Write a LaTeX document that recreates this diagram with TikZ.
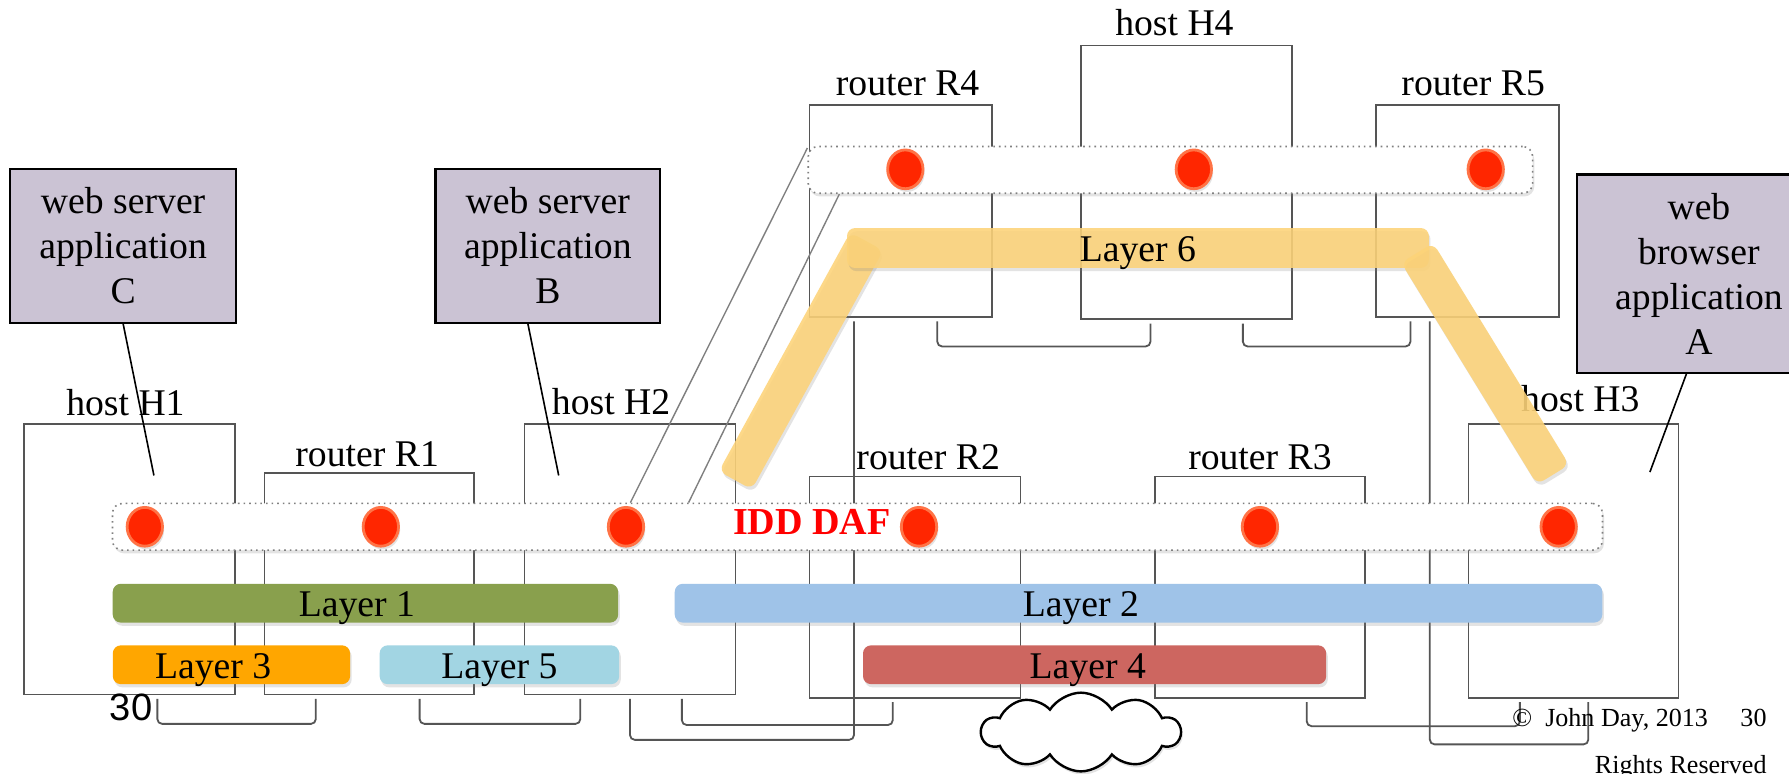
\documentclass[tikz,border=0pt]{standalone}
\usepackage{fontspec}
\setmainfont{Liberation Serif}
\newfontfamily\pagesans{Liberation Sans}
\usetikzlibrary{shapes.geometric,shapes.symbols,shadows}

\definecolor{appfill}{RGB}{203,195,212}
\definecolor{boxline}{RGB}{85,85,85}
\definecolor{dotred}{RGB}{255,38,0}
\definecolor{dotrim}{RGB}{255,115,70}
\definecolor{layerone}{RGB}{137,160,77}
\definecolor{layertwo}{RGB}{159,195,232}
\definecolor{layerthree}{RGB}{255,166,0}
\definecolor{layerfour}{RGB}{205,102,96}
\definecolor{layerfive}{RGB}{162,213,227}
\definecolor{layersix}{RGB}{253,211,120}

\tikzset{
  softshadow/.style={drop shadow={shadow xshift=0.4pt,shadow yshift=-0.8pt,opacity=0.22}},
  netbox/.style={draw=boxline,line width=0.45pt,inner sep=0pt},
  netlabel/.style={font=\fontsize{9.4}{11}\selectfont,inner sep=0pt,anchor=base},
  appbox/.style={draw=black,fill=appfill,line width=0.55pt,align=center,inner sep=0pt,font=\fontsize{9.4}{11.2}\selectfont},
  link/.style={draw=boxline,line width=0.45pt,rounded corners=1.2pt},
  callout/.style={draw=black,line width=0.4pt},
  zoomline/.style={draw=gray,line width=0.35pt},
  dafbar/.style={draw=gray,densely dotted,line width=0.4pt,fill=white,rounded corners=2.5pt,inner sep=0pt,softshadow},
  ipcp/.style={ellipse,fill=dotred,draw=dotrim,line width=0.7pt,minimum width=3.1mm,minimum height=3.4mm,inner sep=0pt,softshadow},
  layerbar/.style={rounded corners=2pt,inner sep=0pt,minimum height=3.4mm,softshadow},
  layertext/.style={font=\fontsize{9.4}{11}\selectfont,inner sep=0pt,anchor=base},
}

\begin{document}
\begin{tikzpicture}[x=0.01cm,y=-0.01cm]
\path[use as bounding box,fill=white] (0,0) rectangle (1569,678);

% hosts and routers
\node[netbox,minimum width=18.5mm,minimum height=23.7mm] (h1) at (113.5,490.5) {};
\node[netbox,minimum width=18.4mm,minimum height=19.4mm] (r1) at (324,512) {};
\node[netbox,minimum width=18.5mm,minimum height=23.7mm] (h2) at (552.5,490.5) {};
\node[netbox,minimum width=18.5mm,minimum height=19.4mm] (r2) at (802.5,515) {};
\node[netbox,minimum width=18.4mm,minimum height=19.4mm] (r3) at (1105,515) {};
\node[netbox,minimum width=18.4mm,minimum height=24mm] (h3) at (1380,492) {};
\node[netbox,minimum width=16mm,minimum height=18.6mm] (r4) at (790,185) {};
\node[netbox,minimum width=18.5mm,minimum height=24mm] (h4) at (1040.5,160) {};
\node[netbox,minimum width=16mm,minimum height=18.6mm] (r5) at (1287,185) {};

\node[netlabel] at ([xshift=-0.35mm,yshift=0.7mm]h1.north) {host H1};
\node[netlabel] at ([xshift=-0.2mm,yshift=0.5mm]r1.north) {router R1};
\node[netlabel] at ([xshift=-1.65mm,yshift=0.8mm]h2.north) {host H2};
\node[netlabel] at ([xshift=1.15mm,yshift=0.5mm]r2.north) {router R2};
\node[netlabel] at ([yshift=0.5mm]r3.north) {router R3};
\node[netlabel] at ([xshift=0.6mm,yshift=1mm]h3.north) {host H3};
\node[netlabel] at ([xshift=0.6mm,yshift=0.7mm]r4.north) {router R4};
\node[netlabel] at ([xshift=-1.05mm,yshift=0.8mm]h4.north) {host H4};
\node[netlabel] at ([xshift=0.5mm,yshift=0.7mm]r5.north) {router R5};

% wires between the boxes
\draw[link] ([xshift=2.45mm,yshift=-0.3mm]h1.south) -- ++(0,22) -| ([xshift=-4.7mm,yshift=-0.3mm]r1.south);
\draw[link] ([xshift=4.4mm,yshift=-0.3mm]r1.south) -- ++(0,22) -| ([xshift=-4.35mm,yshift=-0.3mm]h2.south);
\draw[link] ([yshift=-0.3mm]h2.south) -- ++(0,36) -| ([xshift=-4.1mm,yshift=-0.3mm]r4.south);
\draw[link] ([xshift=4.55mm,yshift=-0.3mm]h2.south) -- ++(0,23) -| ([xshift=-1.95mm,yshift=-0.3mm]r2.south);
\draw[link] ([xshift=4.1mm,yshift=-0.3mm]r3.south) -- ++(0,21) -| ([xshift=-4.7mm,yshift=-0.3mm]h3.south);
\draw[link] ([xshift=-3.3mm,yshift=-0.3mm]r5.south) -- ++(0,371) -| ([xshift=1.3mm,yshift=-0.3mm]h3.south);
\draw[link] ([xshift=3.2mm,yshift=-0.3mm]r4.south) -- ++(0,22) -| ([xshift=-3.15mm,yshift=-0.3mm]h4.south);
\draw[link] ([xshift=4.95mm,yshift=-0.3mm]h4.south) -- ++(0,20) -| ([xshift=-5mm,yshift=-0.3mm]r5.south);

% layer 6 over the top routers
\node[layerbar,fill=layersix,fill opacity=0.88,minimum width=23.9mm,minimum height=3.3mm,rotate=61.2] (sixleft) at (702.5,316.5) {};
\node[layerbar,fill=layersix,fill opacity=0.88,minimum width=51mm,minimum height=3.5mm] (lay6) at (998,217.5) {};
\node[layerbar,fill=layersix,fill opacity=0.88,minimum width=22.8mm,minimum height=3.3mm,rotate=-58.5] (sixright) at (1302.5,319) {};
\node[layertext] at ([yshift=-1.15mm]lay6.center) {Layer 6};

% the two DAFs
\node[dafbar,minimum width=130.6mm,minimum height=4.1mm] (daflow) at (752,462) {};
\node[dafbar,minimum width=63.5mm,minimum height=4.1mm] (dafhigh) at (1026.5,149) {};
\draw[zoomline] ([yshift=-0.2mm]dafhigh.north west) -- ([xshift=-19.9mm]daflow.north);
\draw[zoomline] ([xshift=2.8mm]dafhigh.south west) -- ([xshift=-14.8mm]daflow.north);

\foreach \x [count=\i] in {127,334,549,806,1105,1367}
  \node[ipcp] (dotlow\i) at (\x,462) {};
\foreach \x [count=\i] in {794,1047,1303}
  \node[ipcp] (dothigh\i) at (\x,148.5) {};

\node[font=\fontsize{9.5}{11}\selectfont\bfseries,text=red,inner sep=0pt,anchor=base] (dafname) at (712,469) {IDD DAF};

% layers 1 to 5
\node[layerbar,fill=layerone,minimum width=44.3mm] (lay1) at (320.5,529) {};
\node[layerbar,fill=layertwo,minimum width=81.3mm] (lay2) at (998.5,529) {};
\node[layerbar,fill=layerthree,minimum width=20.8mm] (lay3) at (203,583) {};
\node[layerbar,fill=layerfour,minimum width=40.6mm] (lay4) at (960,583) {};
\node[layerbar,fill=layerfive,minimum width=21mm] (lay5) at (438,583) {};
\node[layertext] at ([xshift=-0.75mm,yshift=-1.2mm]lay1.center) {Layer 1};
\node[layertext] at ([xshift=-5.05mm,yshift=-1.2mm]lay2.center) {Layer 2};
\node[layertext] at ([xshift=-1.6mm,yshift=-1.2mm]lay3.center) {Layer 3};
\node[layertext] at ([xshift=-0.6mm,yshift=-1.2mm]lay4.center) {Layer 4};
\node[layertext] at ([yshift=-1.2mm]lay5.center) {Layer 5};

% applications
\node[appbox,minimum width=19.8mm,minimum height=13.5mm] (appc) at (108,215.5) {web server\\application\\C};
\node[appbox,minimum width=19.7mm,minimum height=13.5mm] (appb) at (480.5,215.5) {web server\\application\\B};
\node[appbox,minimum width=21.4mm,minimum height=17.4mm] (appa) at (1490,240) {web\\browser\\application\\A};
\coordinate (inh1) at (135,417);
\coordinate (inh2) at (490,417);
\coordinate (inh3) at (1447,414);
\draw[callout] (appc.south) -- (inh1);
\draw[callout] ([xshift=-1.75mm]appb.south) -- (inh2);
\draw[callout] ([xshift=-1.1mm]appa.south) -- (inh3);

% cloud
\node[cloud,cloud puffs=10,cloud puff arc=115,aspect=2.5,draw=black,line width=0.6pt,fill=white,minimum width=17.4mm,minimum height=6.9mm,inner sep=0pt,softshadow] (cloud) at (948,642) {};

% footer
\node[font=\pagesans\fontsize{9.5}{11}\selectfont,anchor=base,inner sep=0pt] (slideno) at (115,632) {30};
\node[font=\fontsize{6.5}{8}\selectfont,anchor=base east,inner sep=0pt] (copyline) at (1550,637) {©\enspace John Day, 2013\quad\ 30};
\node[font=\fontsize{6.5}{8}\selectfont,anchor=base east,inner sep=0pt] (rights) at (1550,678) {Rights Reserved};
\end{tikzpicture}
\end{document}
